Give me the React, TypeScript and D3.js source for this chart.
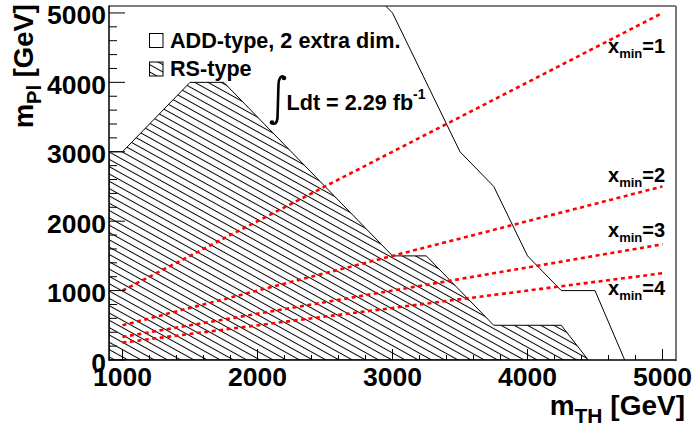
import React from "react";
import * as d3 from "d3";

// ---------- data ----------
const xTicksMajor = [1000, 2000, 3000, 4000, 5000];
const yTicksMajor = [0, 1000, 2000, 3000, 4000, 5000];

// RS-type excluded region (hatched polygon), m_TH vs m_Pl
const rsTH = [900, 900, 1000, 1500, 1750, 3000, 3250, 3750, 4250, 4450];
const rsPl = [0, 3000, 3000, 4000, 4000, 1500, 1500, 500, 500, 0];

// ADD-type, 2 extra dim. limit (solid line)
const addTH = [2900, 3000, 3500, 3750, 4000, 4250, 4500, 4720];
const addPl = [5200, 5000, 3000, 2500, 1500, 1000, 1000, 0];

// x_min lines (red dashed)
const xminLabels = ["1", "2", "3", "4"];
const xminLineTH = [1000, 5000];
const xminStartPl = [1000, 500, 333, 250];
const xminEndPl = [5000, 2500, 1667, 1250];

const W = 693;
const H = 428;
const FONT = "'Liberation Sans', Arial, Helvetica, sans-serif";

export default function App() {
  const x = d3.scaleLinear().domain([900, 5100]).range([109, 676]);
  const y = d3.scaleLinear().domain([0, 5100]).range([360, 6]);

  const xMinor = d3.range(1000, 5001, 200).filter((v) => v % 1000 !== 0);
  const yMinor = d3.range(0, 5001, 200).filter((v) => v % 1000 !== 0);

  const line = d3
    .line<[number, number]>()
    .x((d) => x(d[0]))
    .y((d) => y(d[1]));

  const rsPts: [number, number][] = rsTH.map((t, i) => [t, rsPl[i]]);
  const addPts: [number, number][] = addTH.map((t, i) => [t, addPl[i]]);

  const labelBaselines = [53, 182, 237, 295];

  return (
    <svg
      width={W}
      height={H}
      style={{ position: "absolute", left: 0, top: 0, background: "#fff" }}
      fontFamily={FONT}
      fontWeight="bold"
    >
      <defs>
        <pattern
          id="hatch"
          patternUnits="userSpaceOnUse"
          width={12}
          height={6.4}
          patternTransform="rotate(29)"
        >
          <line x1={0} y1={3.2} x2={12} y2={3.2} stroke="#000" strokeWidth={1} />
        </pattern>
        <clipPath id="frame">
          <rect x={109} y={6} width={567} height={354} />
        </clipPath>
      </defs>
      <rect x={0} y={0} width={W} height={H} fill="#fff" />

      <g clipPath="url(#frame)">
        <path d={line(rsPts) + "Z"} fill="url(#hatch)" stroke="#000" strokeWidth={1} />
        <path d={line(addPts) || ""} fill="none" stroke="#000" strokeWidth={1} />
        {xminLabels.map((lab, i) => (
          <line
            key={lab}
            x1={x(xminLineTH[0])}
            y1={y(xminStartPl[i])}
            x2={x(xminLineTH[1])}
            y2={y(xminEndPl[i])}
            stroke="#ff0000"
            strokeWidth={2.6}
            strokeDasharray="4,3.5"
          />
        ))}
      </g>

      {/* frame */}
      <line x1={109} y1={6} x2={676} y2={6} stroke="#000" strokeWidth={1.2} />
      <line x1={676} y1={6} x2={676} y2={361} stroke="#777" strokeWidth={2} />
      <line x1={109} y1={5.5} x2={109} y2={360.5} stroke="#000" strokeWidth={1.5} />
      <line x1={108.5} y1={360} x2={676} y2={360} stroke="#000" strokeWidth={1.5} />

      {/* x ticks */}
      {xTicksMajor.map((v) => (
        <line key={"xm" + v} x1={x(v)} x2={x(v)} y1={360} y2={349} stroke="#000" strokeWidth={1} />
      ))}
      {xMinor.map((v) => (
        <line key={"xn" + v} x1={x(v)} x2={x(v)} y1={360} y2={355} stroke="#000" strokeWidth={1} />
      ))}
      {/* y ticks */}
      {yTicksMajor.map((v) => (
        <line key={"ym" + v} x1={109} x2={125} y1={y(v)} y2={y(v)} stroke="#000" strokeWidth={1} />
      ))}
      {yMinor.map((v) => (
        <line key={"yn" + v} x1={109} x2={117} y1={y(v)} y2={y(v)} stroke="#000" strokeWidth={1} />
      ))}

      {/* tick labels */}
      {xTicksMajor.map((v) => (
        <text key={"xl" + v} x={x(v)} y={385.5} fontSize={26.5} textAnchor="middle">
          {v}
        </text>
      ))}
      {yTicksMajor.map((v) => (
        <text key={"yl" + v} x={106} y={y(v) + 11.5} fontSize={26.5} textAnchor="end">
          {v}
        </text>
      ))}

      {/* axis titles */}
      <text x={685} y={415} fontSize={28} textAnchor="end">
        m<tspan fontSize={21} dy={8}>TH</tspan>
        <tspan dy={-8}> [GeV]</tspan>
      </text>
      <text transform="translate(33,4) rotate(-90)" fontSize={27.5} textAnchor="end">
        m<tspan fontSize={20} dy={8}>Pl</tspan>
        <tspan dy={-8}> [GeV]</tspan>
      </text>

      {/* legend */}
      <rect x={149.5} y={33.5} width={13.5} height={14} fill="none" stroke="#000" strokeWidth={1} />
      <text x={170} y={47.5} fontSize={21.6}>
        ADD-type, 2 extra dim.
      </text>
      <rect x={149.5} y={62} width={13.5} height={14} fill="url(#hatch)" stroke="#000" strokeWidth={1} />
      <text x={170} y={75.5} fontSize={21.6}>
        RS-type
      </text>

      {/* integral luminosity */}
      <path
        d="M284,77 C281,75 279,78 278.5,84 L277.5,118 C277,123 275,125 272,123"
        fill="none"
        stroke="#000"
        strokeWidth={2.6}
      />
      <circle cx={284} cy={78} r={2.3} fill="#000" />
      <circle cx={272} cy={122.5} r={2.3} fill="#000" />
      <text x={286.5} y={110} fontSize={21.6}>
        Ldt = 2.29 fb<tspan fontSize={14} dy={-11}>-1</tspan>
      </text>

      {/* x_min labels */}
      {xminLabels.map((lab, i) => (
        <text key={"xl" + lab} x={608} y={labelBaselines[i]} fontSize={20}>
          x<tspan fontSize={13} dy={5}>min</tspan>
          <tspan dy={-5}>={lab}</tspan>
        </text>
      ))}
    </svg>
  );
}
